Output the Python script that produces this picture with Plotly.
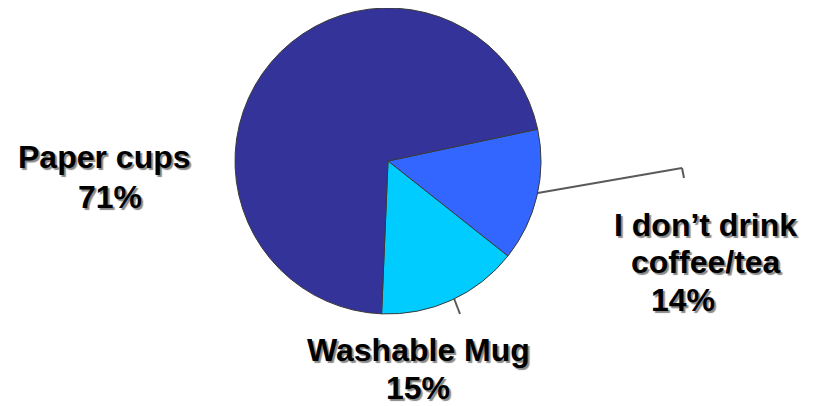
import plotly.graph_objects as go

categories = ["I don't drink coffee/tea", "Washable Mug", "Paper cups"]
values = [14, 15, 71]
colors = ["#3366FF", "#00CCFF", "#333399"]

W, H = 818, 406
OFF = 8  # page body margin offset

def px(x, y):
    return (x - OFF) / W, 1 - (y - OFF) / H

def clamp(v):
    return min(1.0, max(0.0, v))

cx, cy, r = 388, 161, 153
dx0, dy1 = px(cx - r, cy - r)
dx1, dy0 = px(cx + r, cy + r)

fig = go.Figure(go.Pie(
    labels=categories,
    values=values,
    sort=False,
    direction="clockwise",
    rotation=78,
    marker=dict(colors=colors, line=dict(color="#3a3a3a", width=1)),
    textinfo="none",
    hoverinfo="label+percent",
    domain=dict(x=[clamp(dx0), clamp(dx1)], y=[clamp(dy0), clamp(dy1)]),
))

font = dict(family="Liberation Sans", size=32, color="black",
            weight="bold", shadow="2px 2px 1px #888")

labels = [
    ("Paper cups", 104, 157),
    (f"{values[2]}%", 110, 197),
    ("I don\u2019t drink", 705, 225),
    ("coffee/tea", 706, 262),
    (f"{values[0]}%", 683, 300),
    ("Washable Mug", 418, 350),
    (f"{values[1]}%", 418, 388),
]
for text, x, y in labels:
    ax, ay = px(x, y)
    fig.add_annotation(text=text, x=ax, y=ay, xref="paper", yref="paper",
                       xanchor="center", yanchor="middle", showarrow=False,
                       font=font)

leaders = [
    [(532, 194), (682, 168), (684, 178)],
    [(450, 288), (460, 314)],
]
for pts in leaders:
    for (x0, y0), (x1, y1) in zip(pts[:-1], pts[1:]):
        a0, b0 = px(x0, y0)
        a1, b1 = px(x1, y1)
        fig.add_shape(type="line", xref="paper", yref="paper", layer="below",
                      x0=a0, y0=b0, x1=a1, y1=b1,
                      line=dict(color="#5a5a5a", width=2))

fig.update_layout(
    width=W, height=H,
    margin=dict(l=0, r=0, t=0, b=0),
    showlegend=False,
    paper_bgcolor="rgba(0,0,0,0)",
    plot_bgcolor="rgba(0,0,0,0)",
)

fig.write_html("out.html")
